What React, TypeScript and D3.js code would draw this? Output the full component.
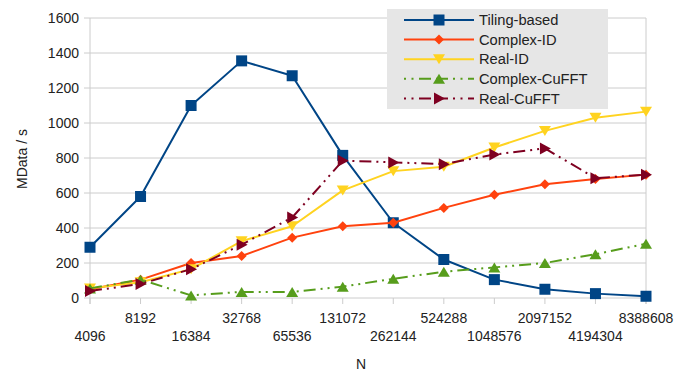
import React from "react";
import * as d3 from "d3";

const categories = ["4096","8192","16384","32768","65536","131072","262144","524288","1048576","2097152","4194304","8388608"];
const tilingBased = [290, 580, 1100, 1355, 1270, 815, 430, 220, 105, 50, 25, 10];
const complexID = [50, 105, 200, 240, 345, 410, 430, 515, 590, 650, 680, 705];
const realID = [55, 90, 165, 325, 410, 615, 725, 750, 860, 955, 1030, 1065];
const complexCuFFT = [55, 105, 15, 35, 35, 65, 110, 150, 175, 200, 250, 310];
const realCuFFT = [40, 80, 165, 305, 460, 785, 775, 765, 820, 855, 685, 705];
const yTicks = [0, 200, 400, 600, 800, 1000, 1200, 1400, 1600];

type Marker = "square" | "diamond" | "down" | "up" | "right";
const series: { name: string; values: number[]; color: string; marker: Marker; dash?: string }[] = [
  { name: "Tiling-based", values: tilingBased, color: "#004586", marker: "square" },
  { name: "Complex-ID", values: complexID, color: "#ff420e", marker: "diamond" },
  { name: "Real-ID", values: realID, color: "#ffd320", marker: "down" },
  { name: "Complex-CuFFT", values: complexCuFFT, color: "#579d1c", marker: "up", dash: "12 5 2 5 2 5" },
  { name: "Real-CuFFT", values: realCuFFT, color: "#7e0021", marker: "right", dash: "12 5 2 5 2 5" },
];

function markerPath(m: Marker, x: number, y: number): string {
  const s = 5.5;
  switch (m) {
    case "square":
      return `M${x - s},${y - s}h${2 * s}v${2 * s}h${-2 * s}Z`;
    case "diamond":
      return `M${x},${y - 5}L${x + 5},${y}L${x},${y + 5}L${x - 5},${y}Z`;
    case "down":
      return `M${x - 6},${y - 5}L${x + 6},${y - 5}L${x},${y + 5}Z`;
    case "up":
      return `M${x - 6},${y + 5}L${x + 6},${y + 5}L${x},${y - 5}Z`;
    case "right":
      return `M${x - 5},${y - 6}L${x - 5},${y + 6}L${x + 6},${y}Z`;
  }
}

export default function App() {
  const W = 694, H = 374;
  const x = d3.scalePoint<string>().domain(categories).range([90, 646]);
  const y = d3.scaleLinear().domain([0, 1600]).range([298, 18]);
  const line = d3.line<number>().x((_, i) => x(categories[i])!).y((d) => y(d));
  const font = "'Liberation Sans', Arial, sans-serif";

  return (
    <div style={{ position: "absolute", left: 0, top: 0 }}>
      <svg width={W} height={H} style={{ display: "block", fontFamily: font }}>
        <rect width={W} height={H} fill="#fff" />
        {yTicks.map((t) => (
          <g key={t}>
            <line x1={84} x2={646} y1={y(t)} y2={y(t)} stroke="#cccccc" strokeWidth={1} />
            <text x={79} y={y(t)} dy="0.35em" textAnchor="end" fontSize={14} fill="#222">{t}</text>
          </g>
        ))}
        <line x1={90} x2={90} y1={18} y2={304} stroke="#cccccc" />
        <line x1={646} x2={646} y1={18} y2={304} stroke="#cccccc" />
        {categories.map((c, i) => (
          <g key={c}>
            <line x1={x(c)!} x2={x(c)!} y1={298} y2={304} stroke="#cccccc" />
            <text x={x(c)!} y={i % 2 === 0 ? 341 : 323} textAnchor="middle" fontSize={14} fill="#222">{c}</text>
          </g>
        ))}
        <text x={361} y={369} textAnchor="middle" fontSize={14} fill="#222">N</text>
        <text transform="translate(27,159) rotate(-90)" textAnchor="middle" fontSize={14} fill="#222">MData / s</text>

        {series.map((s) => (
          <g key={s.name}>
            <path d={line(s.values)!} fill="none" stroke={s.color} strokeWidth={2} strokeDasharray={s.dash} strokeLinejoin="round" />
            {s.values.map((v, i) => (
              <path key={i} d={markerPath(s.marker, x(categories[i])!, y(v))} fill={s.color} />
            ))}
          </g>
        ))}

        <rect x={387} y={9} width={221} height={100} fill="#e6e6e6" />
        {series.map((s, i) => {
          const ly = 20 + i * 19.6;
          return (
            <g key={s.name}>
              <line x1={404} x2={474} y1={ly} y2={ly} stroke={s.color} strokeWidth={2} strokeDasharray={s.dash ? "2 5.5 2 5.5 12 5 12 5" : undefined} />
              <path d={markerPath(s.marker, 439, ly)} fill={s.color} />
              <text x={479} y={ly} dy="0.35em" fontSize={14.7} fill="#222">{s.name}</text>
            </g>
          );
        })}
      </svg>
    </div>
  );
}
